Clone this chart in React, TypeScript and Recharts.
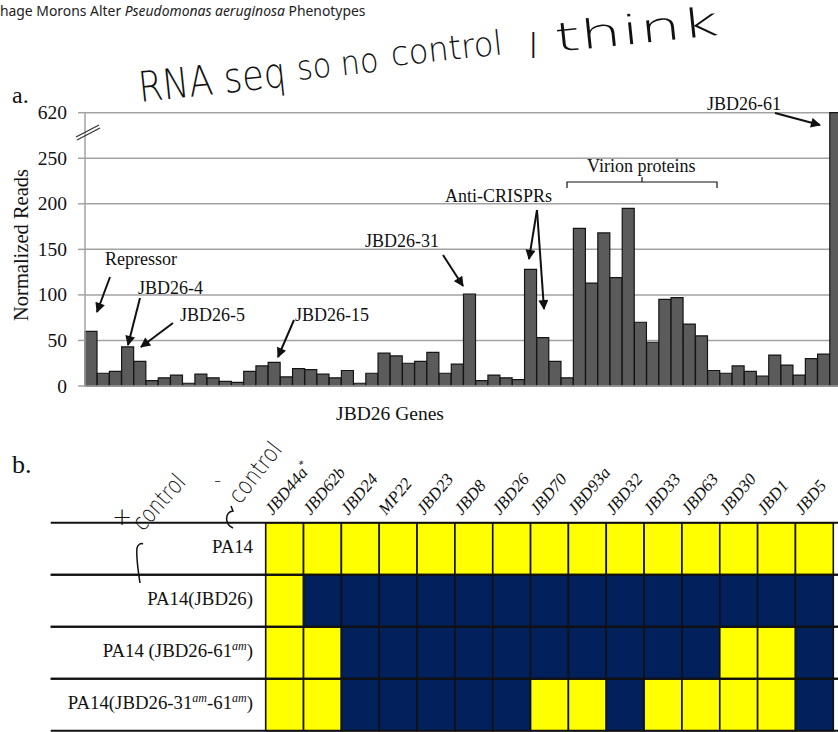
import React from "react";
import { BarChart, Bar, XAxis, YAxis, CartesianGrid, Cell } from "recharts";

// panel a: RNA-seq read counts, one bar per JBD26 gene (left to right)
const reads = [
  60, 14, 16, 43, 27, 6, 9, 12, 3, 13, 9, 5, 4, 16, 22, 26, 10, 19, 18, 13,
  9, 17, 3, 14, 36, 33, 25, 27, 37, 14, 24, 101, 6, 12, 9, 7, 128, 53, 27, 9,
  173, 113, 168, 119, 195, 70, 48, 95, 97, 68, 55, 17, 14, 22, 16, 11, 34, 23, 12, 30,
  35, 620,
];
const geneLabels = reads.map((_, i) => `JBD26 gene ${i + 1}`);
const yTickLabels = [0, 50, 100, 150, 200, 250, 620];

// axis is broken above 250: 620 sits one step up
const AXIS_BREAK = 250;
const BREAK_SLOT = 300;
const toPlot = (v: number) => (v > AXIS_BREAK ? BREAK_SLOT : v);

// panel b: plaquing matrix, 1 = plaques (yellow), 0 = none (navy)
const phages = ["JBD44a*", "JBD62b", "JBD24", "MP22", "JBD23", "JBD8", "JBD26", "JBD70", "JBD93a", "JBD32", "JBD33", "JBD63", "JBD30", "JBD1", "JBD5"];
const strains = ["PA14", "PA14(JBD26)", "PA14 (JBD26-61^am)", "PA14(JBD26-31^am-61^am)"];
const plaques = [
  [1, 1, 1, 1, 1, 1, 1, 1, 1, 1, 1, 1, 1, 1, 1],
  [1, 0, 0, 0, 0, 0, 0, 0, 0, 0, 0, 0, 0, 0, 0],
  [1, 1, 0, 0, 0, 0, 0, 0, 0, 0, 0, 0, 1, 1, 0],
  [1, 1, 0, 0, 0, 0, 0, 1, 1, 0, 1, 1, 1, 1, 0],
];

const SERIF = "'Liberation Serif', 'Times New Roman', serif";
const HAND = "'DejaVu Sans', sans-serif";
const YELLOW = "#ffff00";
const NAVY = "#02215c";
const INK = "#111";

const barData = reads.map((v, i) => ({ gene: geneLabels[i], reads: v, plot: toPlot(v) }));
const gridData = strains.map((s) => {
  const row: Record<string, any> = { strain: s };
  phages.forEach((p) => (row[p] = 1));
  return row;
});

// panel b geometry (chart coords, chart sits at page y = B_TOP)
const B_TOP = 430;
const B_W = 838;
const B_H = 310;
const GRID_LEFT = 265.7;
const GRID_RIGHT = 833.3;
const GRID_TOP = 92.7;
const GRID_BOTTOM = 300.7;
const ROW_H = (GRID_BOTTOM - GRID_TOP) / strains.length;

const serifStyle = { fontFamily: SERIF };

function StrainTick({ y, payload }: any) {
  const parts = String(payload.value).split("^am");
  return (
    <g>
      <line x1={50.7} x2={838} y1={y - ROW_H / 2} y2={y - ROW_H / 2} stroke={INK} strokeWidth={2} />
      <line x1={50.7} x2={838} y1={y + ROW_H / 2} y2={y + ROW_H / 2} stroke={INK} strokeWidth={2} />
      <text x={253} y={y + 4} textAnchor="end" style={serifStyle} fontSize={18.8} fill={INK}>
        {parts.map((p, i) => (
          <React.Fragment key={i}>
            <tspan dy={i > 0 ? 7 : 0}>{p}</tspan>
            {i < parts.length - 1 && (
              <tspan dy={-7} fontSize={12} fontStyle="italic">am</tspan>
            )}
          </React.Fragment>
        ))}
      </text>
    </g>
  );
}

function PhageTick({ x, payload }: any) {
  const name = phages[Math.floor(payload.value)];
  const star = name.endsWith("*");
  const tx = x - 12;
  const ty = GRID_TOP - 7;
  return (
    <text
      x={tx}
      y={ty}
      transform={`rotate(-50 ${tx} ${ty})`}
      style={serifStyle}
      fontStyle="italic"
      fontSize={17}
      fill={INK}
    >
      {star ? name.slice(0, -1) : name}
      {star && <tspan dy={-7} fontSize={11}>*</tspan>}
    </text>
  );
}

function ReadTick({ x, y, payload }: any) {
  const label = yTickLabels[yTickLabels.map(toPlot).indexOf(payload.value)];
  return (
    <text x={x} y={y + 6.5} textAnchor="end" style={serifStyle} fontSize={19.5} fill={INK}>
      {label}
    </text>
  );
}

const arrows = [
  [110, 277, 97, 312],
  [140, 298, 128, 345],
  [173, 323, 141, 347],
  [294, 320, 278, 357],
  [443, 255, 463, 286],
  [537, 210, 529, 259],
  [537, 210, 544, 309],
  [775, 113, 820, 125],
];

const notes = [
  { t: "Repressor", x: 105, y: 265 },
  { t: "JBD26-4", x: 138, y: 294 },
  { t: "JBD26-5", x: 180, y: 321 },
  { t: "JBD26-15", x: 295, y: 321 },
  { t: "JBD26-31", x: 365, y: 247 },
  { t: "Anti-CRISPRs", x: 445, y: 202 },
  { t: "Virion proteins", x: 587, y: 172 },
  { t: "JBD26-61", x: 707, y: 110 },
];

export default function App() {
  return (
    <div style={{ position: "fixed", left: 0, top: 0, width: 838, height: 732, overflow: "hidden", background: "#fff", fontFamily: SERIF }}>
      {/* panel a */}
      <div style={{ position: "absolute", left: 0, top: 0 }}>
        <BarChart
          width={842}
          height={430}
          data={barData}
          margin={{ top: 112.7, right: 0, bottom: 0, left: 0 }}
          barCategoryGap={0}
          barGap={0}
        >
          <CartesianGrid vertical={false} stroke="#a3a3a3" strokeWidth={1.5} />
          <XAxis
            dataKey="gene"
            tick={false}
            tickLine={false}
            axisLine={{ stroke: "#a3a3a3", strokeWidth: 1.5 }}
            height={44}
          />
          <YAxis
            width={85}
            domain={[0, BREAK_SLOT]}
            ticks={yTickLabels.map(toPlot)}
            interval={0}
            tick={<ReadTick />}
            tickSize={7}
            tickMargin={11}
            tickLine={{ stroke: "#a3a3a3", strokeWidth: 1.5 }}
            axisLine={{ stroke: "#a3a3a3", strokeWidth: 1.5 }}
          />
          <Bar dataKey="plot" fill="#5b5b5b" stroke="#151515" strokeWidth={1.2} isAnimationActive={false} />
        </BarChart>
      </div>

      {/* panel b */}
      <div style={{ position: "absolute", left: 0, top: B_TOP }}>
        <BarChart
          width={B_W}
          height={B_H}
          layout="vertical"
          data={gridData}
          margin={{ top: 0, right: B_W - GRID_RIGHT, bottom: B_H - GRID_BOTTOM, left: 0 }}
          barCategoryGap={0}
          barGap={0}
        >
          <XAxis
            type="number"
            orientation="top"
            domain={[0, phages.length]}
            ticks={phages.map((_, i) => i + 0.5)}
            interval={0}
            height={GRID_TOP}
            axisLine={false}
            tickLine={false}
            tick={<PhageTick />}
          />
          <YAxis
            type="category"
            dataKey="strain"
            width={GRID_LEFT}
            axisLine={false}
            tickLine={false}
            interval={0}
            tick={<StrainTick />}
          />
          {phages.map((p, c) => (
            <Bar key={p} dataKey={p} stackId="grid" stroke={INK} strokeWidth={1.6} isAnimationActive={false}>
              {strains.map((s, r) => (
                <Cell key={s} fill={plaques[r][c] ? YELLOW : NAVY} />
              ))}
            </Bar>
          ))}
        </BarChart>
      </div>

      {/* annotations */}
      <svg width={838} height={732} style={{ position: "absolute", left: 0, top: 0, pointerEvents: "none", fontFamily: SERIF }}>
        <defs>
          <marker id="ah" viewBox="0 0 10 10" refX="9" refY="5" markerWidth="6" markerHeight="5" orient="auto">
            <path d="M0,0 L10,5 L0,10 z" fill={INK} />
          </marker>
        </defs>

        <text x={-8.5} y={15.5} style={{ fontFamily: "'Noto Sans', sans-serif" }} fontSize={14.5} fill="#222" textLength={374} lengthAdjust="spacingAndGlyphs">
          Phage Morons Alter <tspan fontStyle="italic">Pseudomonas aeruginosa</tspan> Phenotypes
        </text>

        {/* axis titles */}
        <text x={390} y={420} textAnchor="middle" style={serifStyle} fontSize={19.5} fill={INK}>JBD26 Genes</text>
        <text x={28} y={245} transform="rotate(-90 28 245)" textAnchor="middle" style={serifStyle} fontSize={20.5} fill={INK}>
          Normalized Reads
        </text>

        {/* handwriting */}
        <g style={{ fontFamily: HAND }} fontWeight={200} fill={INK}>
          <text x={140} y={102} fontSize={42} textLength={148} lengthAdjust="spacingAndGlyphs" transform="rotate(-6 140 102)">RNA seq</text>
          <text x={298} y={80} fontSize={34} textLength={82} lengthAdjust="spacingAndGlyphs" transform="rotate(-6 298 80)">so no</text>
          <text x={392} y={66} fontSize={34} textLength={112} lengthAdjust="spacingAndGlyphs" transform="rotate(-6 392 66)">control</text>
          <text x={528} y={58} fontSize={36}>I</text>
          <text x={556} y={52} fontSize={40} textLength={165} lengthAdjust="spacingAndGlyphs" transform="rotate(-6 556 52)">think</text>
          <text x={112} y={525} fontSize={24}>+</text>
          <text x={143} y={532} fontSize={24} textLength={66} lengthAdjust="spacingAndGlyphs" transform="rotate(-48 143 532)">control</text>
          <text x={214} y={487} fontSize={20}>-</text>
          <text x={240} y={505} fontSize={24} textLength={70} lengthAdjust="spacingAndGlyphs" transform="rotate(-52 240 505)">control</text>
        </g>
        <path d="M233 528 C224 524 225 512 233 511 L231 506" fill="none" stroke={INK} strokeWidth={1.5} />
        <path d="M140 583 C138 570 136 556 137 548 C138 544 141 543 143 544" fill="none" stroke={INK} strokeWidth={1.5} />

        {/* panel letters */}
        <text x={12} y={103} style={serifStyle} fontSize={24} fill={INK}>a.</text>
        <text x={12} y={473} style={serifStyle} fontSize={26} fill={INK}>b.</text>

        {/* axis break */}
        <line x1={76} y1={137} x2={99} y2={125} stroke="#333" strokeWidth={1.3} />
        <line x1={77} y1={140} x2={100} y2={128} stroke="#333" strokeWidth={1.3} />

        {/* bracket over virion proteins */}
        <path d="M567 188 L567 182 L717 182 L717 188 M642 182 L642 177" fill="none" stroke={INK} strokeWidth={1.2} />

        {notes.map((n) => (
          <text key={n.t} x={n.x} y={n.y} style={serifStyle} fontSize={18} fill={INK}>{n.t}</text>
        ))}
        {arrows.map(([x1, y1, x2, y2], i) => (
          <line key={i} x1={x1} y1={y1} x2={x2} y2={y2} stroke={INK} strokeWidth={2} markerEnd="url(#ah)" />
        ))}
      </svg>
    </div>
  );
}
